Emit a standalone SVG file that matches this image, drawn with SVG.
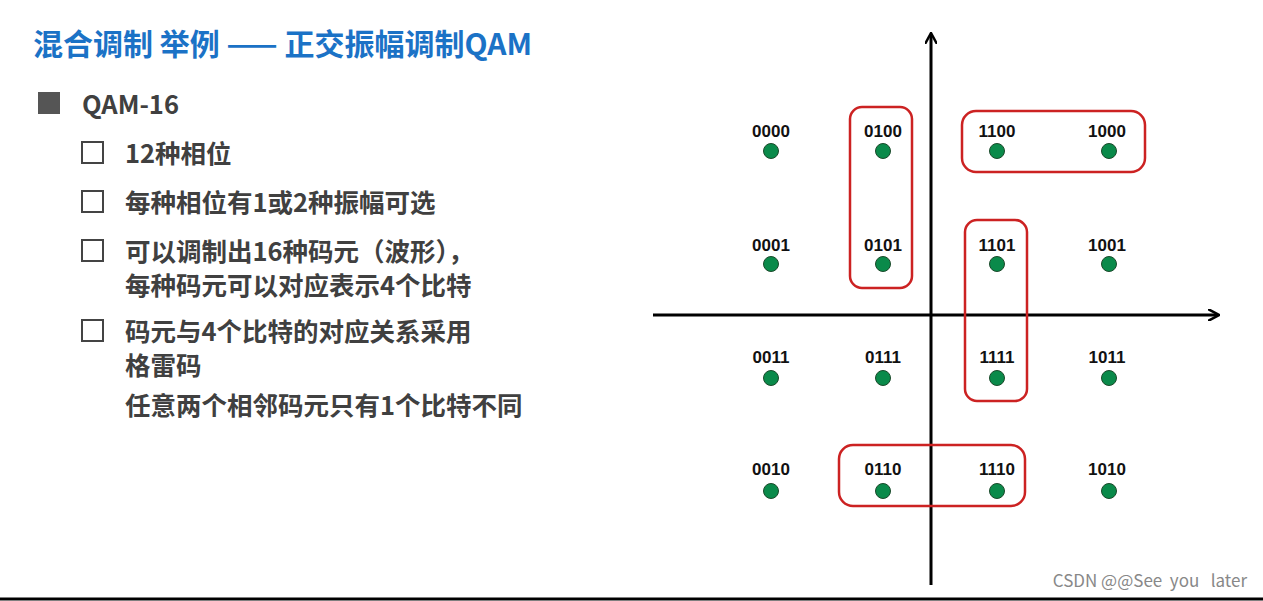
<svg xmlns="http://www.w3.org/2000/svg" width="1263" height="601" viewBox="0 0 1263 601">
<style>
.t{font-family:"Noto Sans CJK SC","Noto Sans",sans-serif;font-weight:bold}
.l{font-family:"Noto Sans CJK SC",sans-serif;font-weight:bold;font-size:25.5px;fill:#404040}
.c{font-family:"Liberation Sans",Arial,sans-serif;font-weight:bold;font-size:17px;fill:#111;text-anchor:middle}
.d{fill:#0a8a4a;stroke:#1a4a2a;stroke-width:1}
.b{fill:none;stroke:#cc2222;stroke-width:2.5}
.cb{fill:#fff;stroke:#444;stroke-width:2}
</style>
<defs><marker id="ar" markerWidth="12" markerHeight="12" refX="10" refY="6" orient="auto" markerUnits="userSpaceOnUse"><path d="M0,0 L11,6 L0,12" fill="none" stroke="#000" stroke-width="2.5"/></marker></defs>
<rect width="1263" height="601" fill="#fff"/>
<text class="t" x="33" y="55" font-size="30" fill="#1b72c6">混合调制 举例 —— 正交振幅调制QAM</text>
<g id="list">
<rect x="38" y="92" width="22" height="22" fill="#555"/>
<text class="l" x="82" y="114" font-size="28">QAM-16</text>
<rect class="cb" x="82" y="142" width="21" height="21"/>
<text class="l" x="125" y="163">12种相位</text>
<rect class="cb" x="82" y="191" width="21" height="21"/>
<text class="l" x="125" y="212">每种相位有1或2种振幅可选</text>
<rect class="cb" x="82" y="240" width="21" height="21"/>
<text class="l" x="125" y="261">可以调制出16种码元（波形），</text>
<text class="l" x="125" y="295">每种码元可以对应表示4个比特</text>
<rect class="cb" x="82" y="320" width="21" height="21"/>
<text class="l" x="125" y="341">码元与4个比特的对应关系采用</text>
<text class="l" x="125" y="375">格雷码</text>
<text class="l" x="125" y="415">任意两个相邻码元只有1个比特不同</text>
</g>
<g id="axes" stroke="#000" stroke-width="3">
<line x1="931" y1="585" x2="931" y2="34" marker-end="url(#ar)"/>
<line x1="653" y1="315" x2="1218" y2="315" marker-end="url(#ar)"/>
</g>
<g id="groups">
<rect class="b" x="850" y="107" width="62" height="181" rx="12"/>
<rect class="b" x="962" y="111" width="183" height="61" rx="14"/>
<rect class="b" x="965" y="220" width="62" height="181" rx="12"/>
<rect class="b" x="839" y="445" width="186" height="61" rx="14"/>
</g>
<g id="points">
<text class="c" x="771" y="137">0000</text><circle class="d" cx="771" cy="151" r="7.5"/>
<text class="c" x="883" y="137">0100</text><circle class="d" cx="883" cy="151" r="7.5"/>
<text class="c" x="997" y="137">1100</text><circle class="d" cx="997" cy="151" r="7.5"/>
<text class="c" x="1107" y="137">1000</text><circle class="d" cx="1109" cy="151" r="7.5"/>
<text class="c" x="771" y="251">0001</text><circle class="d" cx="771" cy="264" r="7.5"/>
<text class="c" x="883" y="251">0101</text><circle class="d" cx="883" cy="264" r="7.5"/>
<text class="c" x="997" y="251">1101</text><circle class="d" cx="997" cy="264" r="7.5"/>
<text class="c" x="1107" y="251">1001</text><circle class="d" cx="1109" cy="264" r="7.5"/>
<text class="c" x="771" y="363">0011</text><circle class="d" cx="771" cy="378" r="7.5"/>
<text class="c" x="883" y="363">0111</text><circle class="d" cx="883" cy="378" r="7.5"/>
<text class="c" x="997" y="363">1111</text><circle class="d" cx="997" cy="378" r="7.5"/>
<text class="c" x="1107" y="363">1011</text><circle class="d" cx="1109" cy="378" r="7.5"/>
<text class="c" x="771" y="475">0010</text><circle class="d" cx="771" cy="491" r="7.5"/>
<text class="c" x="883" y="475">0110</text><circle class="d" cx="883" cy="491" r="7.5"/>
<text class="c" x="997" y="475">1110</text><circle class="d" cx="997" cy="491" r="7.5"/>
<text class="c" x="1107" y="475">1010</text><circle class="d" cx="1109" cy="491" r="7.5"/>
</g>
<line x1="0" y1="599" x2="1263" y2="599" stroke="#000" stroke-width="3"/>
<text x="1247" y="587" text-anchor="end" font-family="Noto Sans CJK SC,sans-serif" font-size="17" fill="#888" xml:space="preserve">CSDN @@See  you   later</text>
</svg>
